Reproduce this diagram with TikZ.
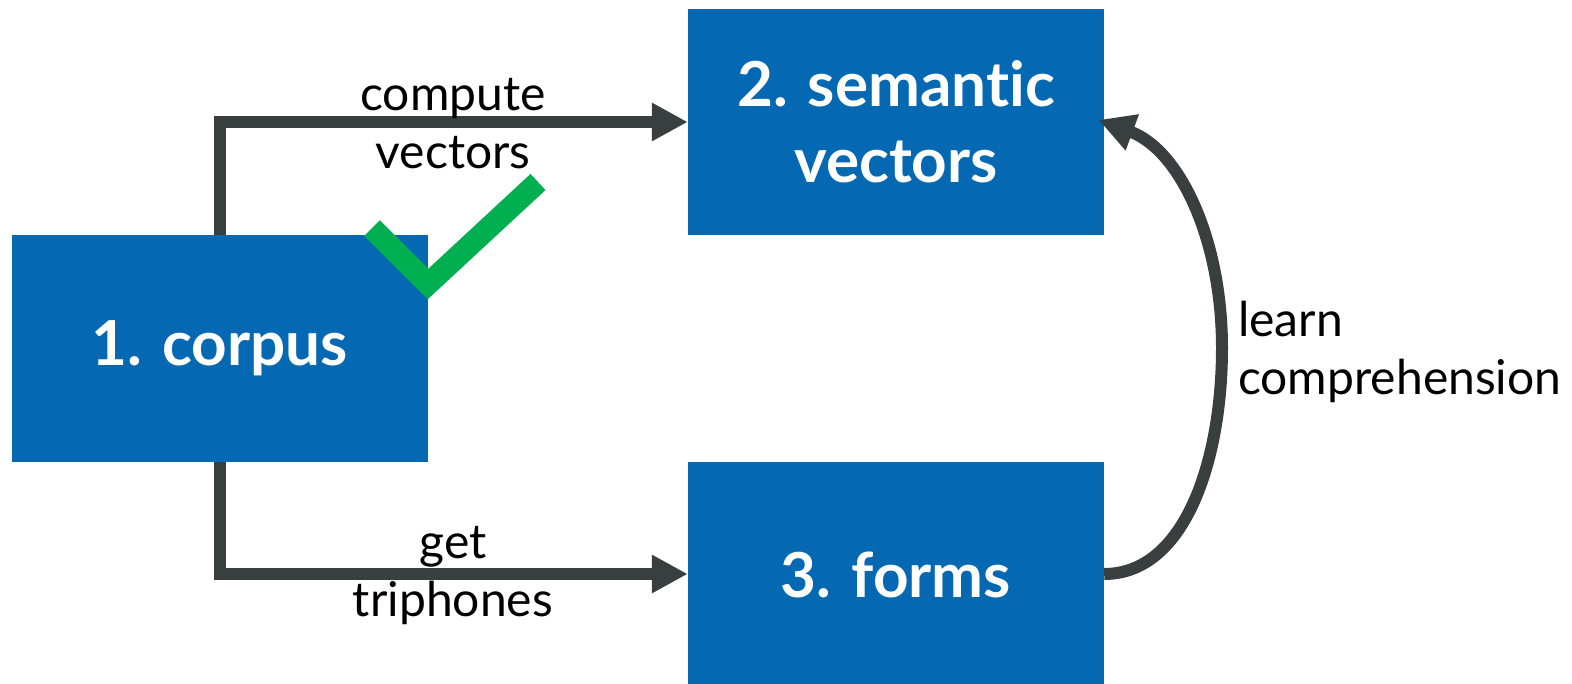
\documentclass[tikz,border=0pt]{standalone}
\usepackage{fontspec}
\setmainfont{Lato}[Ligatures=NoCommon]
\usetikzlibrary{arrows.meta}
\definecolor{boxblue}{HTML}{0469B2}
\definecolor{arrowgrey}{HTML}{383F3E}
\definecolor{tickgreen}{HTML}{00B050}
\begin{document}
\begin{tikzpicture}
[x=1pt,y=-1pt,
  boxdecorate/.style={shape=rectangle,fill=boxblue,text=white,inner sep=0pt,
    minimum width=416pt,minimum height=226pt,align=center,
    font=\fontsize{62}{76}\selectfont\bfseries},%
  linedecorate/.style={draw=arrowgrey,line width=12pt,
    -{Triangle[length=36pt,width=36pt]}},
  labeldecorate/.style={font=\fontsize{48}{58}\selectfont,text=black,inner sep=0pt}]
\useasboundingbox (0,0) rectangle (1572,684);
%% boxes
\foreach \nodename/\x/\y/\boxtext in {
  corpus/219.5/348.5/{1. corpus},
  semantic/896/122/{2. semantic\\vectors},
  forms/896/575/{3. forms}}
{
  \node (\nodename) at (\x,\y) [boxdecorate] {\boxtext};
}
%% connectors
\coordinate (topbend) at (220,122);
\coordinate (botbend) at (220,574);
\draw[linedecorate] (corpus.north -| topbend) |- (semantic.west);
\draw[linedecorate] (corpus.south -| botbend) |- (forms.west |- botbend);
\draw[linedecorate,shorten >=-6pt] (forms.east |- botbend)
  .. controls (1185,574) and (1222,460) .. (1222,348)
  .. controls (1222,240) and (1180,150) .. (semantic.east);
%% labels
\node[labeldecorate,align=center] (computelabel) at (453,124) {compute\\vectors};
\node[labeldecorate,align=center] (getlabel) at (453,576) {get\\triphones};
\node[labeldecorate,align=left,anchor=west] (learnlabel) at (1238,352)
  {learn\\comprehension};
%% tick
\draw[tickgreen,line width=22pt,line cap=butt,line join=miter]
  (372,228) -- (428,284) -- (538,182);
\end{tikzpicture}
\end{document}
